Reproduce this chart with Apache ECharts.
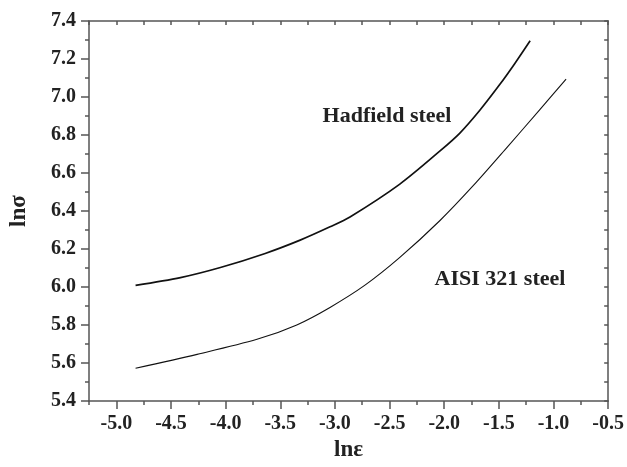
<!DOCTYPE html>
<html>
<head>
<meta charset="utf-8">
<script src="https://cdn.jsdelivr.net/npm/echarts@6/dist/echarts.min.js"></script>
<style>html,body{margin:0;padding:0;background:#fff}#c{width:627px;height:467px}</style>
</head>
<body>
<div id="c"></div>
<script>
// Data
var hadfieldX = [-4.824, -4.413, -4.048, -3.638, -3.318, -3.045, -2.862, -2.406, -2.041, -1.859, -1.676, -1.494, -1.357, -1.214];
var hadfieldY = [6.009, 6.050, 6.103, 6.177, 6.247, 6.317, 6.369, 6.542, 6.715, 6.809, 6.929, 7.064, 7.174, 7.296];
var aisiX = [-4.824, -4.261, -3.713, -3.349, -3.045, -2.725, -2.406, -2.041, -1.737, -1.433, -1.129, -0.885];
var aisiY = [5.573, 5.646, 5.725, 5.801, 5.893, 6.010, 6.156, 6.349, 6.532, 6.730, 6.931, 7.094];
var xTickLabels = [-5.0, -4.5, -4.0, -3.5, -3.0, -2.5, -2.0, -1.5, -1.0, -0.5];
var seriesNames = ['Hadfield steel', 'AISI 321 steel'];

function pairs(xs, ys) { return xs.map(function (x, i) { return [x, ys[i]]; }); }

var FONT = 'Liberation Serif';
var axisColor = '#555';
var chart = echarts.init(document.getElementById('c'));
chart.setOption({
  animation: false,
  grid: { left: 88, right: 18, top: 21, bottom: 63, containLabel: false },
  xAxis: [
    {
      type: 'value', position: 'bottom', min: -5.25, max: -0.5,
      name: 'lnε', nameLocation: 'middle', nameGap: 36,
      nameTextStyle: { fontFamily: FONT, fontWeight: 'bold', fontSize: 23, color: '#222' },
      axisLine: { show: true, lineStyle: { color: axisColor, width: 1.5 } },
      axisTick: { show: true, inside: false, length: 8, customValues: xTickLabels, lineStyle: { color: axisColor, width: 1.5 } },
      axisLabel: { customValues: xTickLabels, margin: 13, fontFamily: FONT, fontWeight: 'bold', fontSize: 20, color: '#222',
        formatter: function (v) { return v.toFixed(1); } },
      splitLine: { show: false }
    },
    {
      type: 'value', position: 'bottom', min: -5.25, max: -0.5, interval: 0.25,
      axisLine: { show: false },
      axisTick: { show: true, inside: false, length: 4, lineStyle: { color: axisColor, width: 1.5 } },
      axisLabel: { show: false }, splitLine: { show: false }
    },
    {
      type: 'value', position: 'top', min: -5.25, max: -0.5, interval: 0.25,
      axisLine: { show: true, lineStyle: { color: axisColor, width: 1.5 } },
      axisTick: { show: true, inside: true, length: 4, lineStyle: { color: axisColor, width: 1.5 } },
      axisLabel: { show: false }, splitLine: { show: false }
    }
  ],
  yAxis: [
    {
      type: 'value', position: 'left', min: 5.4, max: 7.4, interval: 0.2,
      name: 'lnσ', nameLocation: 'middle', nameGap: 58, nameRotate: 90,
      nameTextStyle: { fontFamily: FONT, fontWeight: 'bold', fontSize: 23, color: '#222' },
      axisLine: { show: true, lineStyle: { color: axisColor, width: 1.5 } },
      axisTick: { show: true, inside: false, length: 8, lineStyle: { color: axisColor, width: 1.5 } },
      minorTick: { show: true, splitNumber: 2, length: 4, lineStyle: { color: axisColor, width: 1.5 } },
      axisLabel: { margin: 13, fontFamily: FONT, fontWeight: 'bold', fontSize: 20, color: '#222',
        formatter: function (v) { return v.toFixed(1); } },
      splitLine: { show: false }
    },
    {
      type: 'value', position: 'right', min: 5.4, max: 7.4, interval: 0.1,
      axisLine: { show: true, lineStyle: { color: axisColor, width: 1.5 } },
      axisTick: { show: true, inside: true, length: 4, lineStyle: { color: axisColor, width: 1.5 } },
      axisLabel: { show: false }, splitLine: { show: false }
    }
  ],
  series: [
    {
      name: seriesNames[0], type: 'line', xAxisIndex: 0, yAxisIndex: 0,
      data: pairs(hadfieldX, hadfieldY), smooth: 0.3, showSymbol: false,
      lineStyle: { color: '#111', width: 1.7 }
    },
    {
      name: seriesNames[1], type: 'line', xAxisIndex: 0, yAxisIndex: 0,
      data: pairs(aisiX, aisiY), smooth: 0.3, showSymbol: false,
      lineStyle: { color: '#111', width: 1.1 }
    }
  ],
  graphic: [
    { type: 'text', x: 387, y: 116, style: { text: seriesNames[0], fontFamily: FONT, fontWeight: 'bold', fontSize: 22, fill: '#222', align: 'center', verticalAlign: 'middle' } },
    { type: 'text', x: 500, y: 279, style: { text: seriesNames[1], fontFamily: FONT, fontWeight: 'bold', fontSize: 22, fill: '#222', align: 'center', verticalAlign: 'middle' } }
  ]
});
</script>
</body>
</html>
